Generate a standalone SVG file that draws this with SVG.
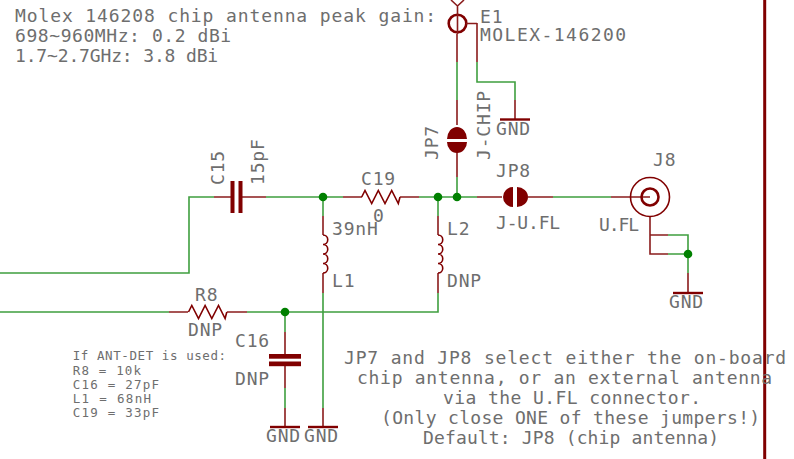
<svg xmlns="http://www.w3.org/2000/svg" xmlns:xlink="http://www.w3.org/1999/xlink" width="794" height="459" viewBox="0 0 794 459">
<style>
text{font-family:"DejaVu Sans Mono","Liberation Mono",monospace;fill:#6e6e6e;font-size:18px;letter-spacing:.82px}
.s{font-size:12.5px;letter-spacing:.6px}
.g{fill:none;stroke:#3f9f3f;stroke-width:1.6}
.r,.rt{fill:none;stroke:#8a1c1c;stroke-width:1.6}
.rt{stroke:#800000}
.b{fill:none;stroke:#800000;stroke-width:2.4}
.f{fill:#800000;stroke:none}
.j{fill:#008000;stroke:none}
</style>
<defs>
<path id="res" d="M0 0L3.3-6.5L10 6.5L16.6-6.5L23.3 6.5L30-6.5L36.6 6.5L38.3 0" class="rt"/>
<path id="coil" d="M0 0a4.75 4.75 0 0 1 0 9.5a4.75 4.75 0 0 1 0 9.5a4.75 4.75 0 0 1 0 9.5a4.75 4.75 0 0 1 0 9.5" class="rt"/>
<path id="gbar" d="M-15 0H15" class="b"/>
</defs>
<rect width="794" height="459" fill="#fff"/>
<path d="M764.7 0V459" fill="none" stroke="#800000" stroke-width="3"/>
<g id="connectors">
<path class="g" d="M0 273H189V197H214"/>
<path class="g" d="M266 197H343M419 197H477M323 197V216M438 197V216M457 177V197"/>
<path class="g" d="M323 293V408M438 293V312H247M0 312H169M285 312V332M285 388V408"/>
<path class="g" d="M457 62V100M477 62V82H515V100M553 197H611"/>
<path class="g" d="M668 235H688V273M668 254H688"/>
<path class="r" d="M214 197H233M241 197H266M343 197H362M400 197H419M477 197H502M528 197H553M611 197H650"/>
<path class="r" d="M323 216V235M323 273V293M438 216V235M438 273V293M323 408V427M285 332V356M285 364V388M285 408V427"/>
<path class="r" d="M169 312H188M227 312H247M457 34V62M477 23V62M515 100V119M457 125V100M457 152V177"/>
<path class="r" d="M650 217V254H668M650 235H668M688 273V293"/>
</g>
<g id="E1"><circle cx="457.5" cy="23.5" r="8.8" fill="none" stroke="#800000" stroke-width="2.6"/><path class="r" d="M457.5 6V34M451 0L457.5 6L464 0M466 23.5H477"/>
<text x="480" y="23">E1</text><text x="480" y="41" textLength="147" lengthAdjust="spacing">MOLEX-146200</text></g>
<g id="GND1"><use href="#gbar" x="515" y="119.5"/><text x="496" y="135">GND</text></g>
<g id="JP7"><path class="f" d="M447 139a10 12 0 0 1 20 0zM447 142a10 11 0 0 0 20 0z"/>
<text transform="translate(438 160) rotate(-90)">JP7</text><text transform="translate(490 160) rotate(-90)">J-CHIP</text></g>
<g id="C15"><rect class="f" x="230.5" y="181" width="4" height="32"/><rect class="f" x="238.5" y="181" width="4" height="32"/>
<text transform="translate(224 185) rotate(-90)">C15</text><text transform="translate(264 185) rotate(-90)">15pF</text></g>
<g id="C19"><use href="#res" x="361.7" y="197"/><text x="361" y="185">C19</text><text x="373" y="222">0</text></g>
<g id="L1"><use href="#coil" x="323" y="235"/><text x="332" y="235">39nH</text><text x="332" y="287">L1</text></g>
<g id="L2"><use href="#coil" x="438" y="235"/><text x="447" y="235">L2</text><text x="447" y="287">DNP</text></g>
<g id="R8"><use href="#res" x="188.5" y="312"/><text x="195" y="301">R8</text><text x="188" y="336">DNP</text></g>
<g id="C16"><rect class="f" x="269" y="354" width="32" height="4.7"/><rect class="f" x="269" y="361.5" width="32" height="4.7"/>
<text x="235" y="347">C16</text><text x="235" y="385">DNP</text></g>
<g id="GND2"><use href="#gbar" x="285" y="427"/><text x="266" y="442">GND</text></g>
<g id="GND3"><use href="#gbar" x="323" y="427"/><text x="304" y="442">GND</text></g>
<g id="JP8"><path class="f" d="M513 187a10 10 0 0 0 0 20zM517 187a11 10 0 0 1 0 20z"/>
<text x="496" y="177">JP8</text><text x="496" y="229" textLength="65" lengthAdjust="spacing">J-U.FL</text></g>
<g id="J8"><circle cx="650" cy="197" r="19.5" fill="none" stroke="#800000" stroke-width="1.6"/><circle cx="650" cy="197" r="8.5" fill="none" stroke="#800000" stroke-width="2.6"/>
<text x="653" y="166">J8</text><text x="599" y="231" textLength="41" lengthAdjust="spacing">U.FL</text></g>
<g id="GND4"><use href="#gbar" x="688" y="293"/><text x="669" y="308">GND</text></g>
<g id="junctions"><circle class="j" cx="323" cy="197" r="4.3"/><circle class="j" cx="438" cy="197" r="4.3"/><circle class="j" cx="457" cy="197" r="4.3"/><circle class="j" cx="285" cy="312" r="4.3"/><circle class="j" cx="688" cy="254" r="4.3"/></g>
<g id="notes">
<text x="15" y="22" textLength="422" lengthAdjust="spacing">Molex 146208 chip antenna peak gain:</text>
<text x="15" y="42" textLength="217" lengthAdjust="spacing">698~960MHz: 0.2 dBi</text>
<text x="15" y="62" textLength="204" lengthAdjust="spacing">1.7~2.7GHz: 3.8 dBi</text>
<text class="s" x="72.7" y="360" textLength="154" lengthAdjust="spacing">If ANT-DET is used:</text>
<text class="s" x="72.7" y="374.5" textLength="69" lengthAdjust="spacing">R8 = 10k</text>
<text class="s" x="72.7" y="388.5" textLength="87" lengthAdjust="spacing">C16 = 27pF</text>
<text class="s" x="72.7" y="403" textLength="79" lengthAdjust="spacing">L1 = 68nH</text>
<text class="s" x="72.7" y="417" textLength="87" lengthAdjust="spacing">C19 = 33pF</text>
<text x="344" y="364" textLength="443" lengthAdjust="spacing">JP7 and JP8 select either the on-board</text>
<text x="357" y="384" textLength="416" lengthAdjust="spacing">chip antenna, or an external antenna</text>
<text x="443" y="404" textLength="259" lengthAdjust="spacing">via the U.FL connector.</text>
<text x="381" y="424" textLength="380" lengthAdjust="spacing">(Only close ONE of these jumpers!)</text>
<text x="423" y="444" textLength="297" lengthAdjust="spacing">Default: JP8 (chip antenna)</text>
</g>
</svg>
